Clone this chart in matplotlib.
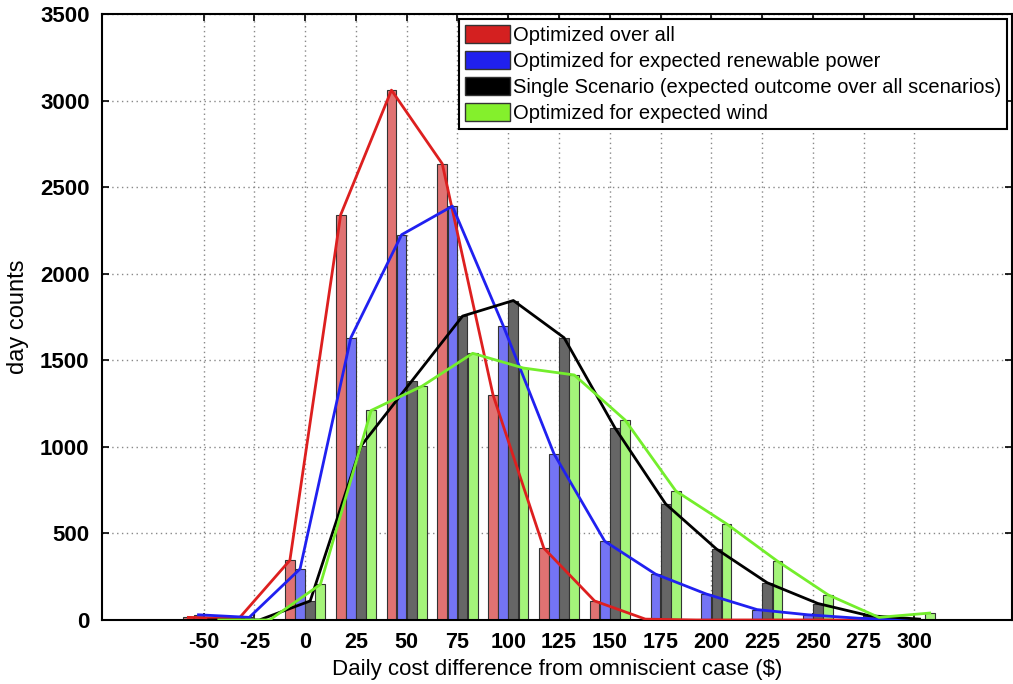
import numpy as np
import matplotlib
matplotlib.use("Agg")
from matplotlib import pyplot as plt
from matplotlib.patches import Patch

plt.rcParams["font.family"] = ["Liberation Sans", "DejaVu Sans"]
plt.rcParams["axes.unicode_minus"] = False

bins = [-50, -25, 0, 25, 50, 75, 100, 125, 150, 175, 200, 225, 250, 275, 300]
red = [15, 10, 345, 2340, 3060, 2635, 1300, 415, 110, 5, 0, 0, 0, 0, 0]
blue = [30, 15, 295, 1630, 2225, 2390, 1700, 960, 455, 265, 150, 60, 30, 10, 0]
black = [0, 0, 110, 1005, 1380, 1755, 1845, 1630, 1110, 670, 410, 215, 95, 25, 5]
green = [0, 0, 205, 1210, 1350, 1540, 1455, 1415, 1155, 745, 555, 340, 145, 15, 40]

labels = ["Optimized over all",
          "Optimized for expected renewable power",
          "Single Scenario (expected outcome over all scenarios)",
          "Optimized for expected wind"]
series = [red, blue, black, green]
bar_cols = ["#e07272", "#7474f4", "#666666", "#a4f47a"]
line_cols = ["#dd1f1f", "#2020f0", "#000000", "#74ee2c"]
offsets = [-7.5, -2.5, 2.5, 7.5]

fig = plt.figure(figsize=(10.13, 6.84), dpi=100)
ax = fig.add_axes([0.1007, 0.0936, 0.8983, 0.886])

x = np.array(bins)
for vals, bc, lc, off in zip(series, bar_cols, line_cols, offsets):
    ax.bar(x + off, vals, width=4.8, color=bc, edgecolor="#333333",
           linewidth=0.8, zorder=2)
    ax.plot(x + off, vals, color=lc, linewidth=2, zorder=3)

ax.set_xlim(-100, 348)
ax.set_ylim(0, 3500)
ax.set_xticks(bins)
ax.set_yticks(range(0, 3501, 500))
ax.tick_params(direction="in", top=True, right=True, length=5, width=1.2)
ax.tick_params(axis="x", pad=9)
ax.tick_params(axis="y", pad=9)
for t in ax.get_xticklabels():
    t.set_fontsize(15.5)
    t.set_fontweight("bold")
for t in ax.get_yticklabels():
    t.set_fontsize(16)
    t.set_fontweight("bold")
ax.grid(True, linestyle=(0, (1, 2.5)), color="#888888", linewidth=1, zorder=0)
ax.set_axisbelow(True)
for s in ax.spines.values():
    s.set_linewidth(1.5)

ax.set_xlabel("Daily cost difference from omniscient case ($)", fontsize=16, labelpad=4)
ax.set_ylabel("day counts", fontsize=17, labelpad=8)

handles = [Patch(facecolor=c, edgecolor="#333333") for c in ["#d42020", "#2020ee", "#000000", "#84f02c"]]
leg = ax.legend(handles, labels, loc="upper right", fontsize=14.5, fancybox=False,
                framealpha=1, edgecolor="black", borderaxespad=0.25,
                handlelength=2.2, handleheight=1.0, labelspacing=0.3,
                handletextpad=0.15, borderpad=0.3)
leg.get_frame().set_linewidth(1.5)

plt.savefig("out.png", dpi=100)
